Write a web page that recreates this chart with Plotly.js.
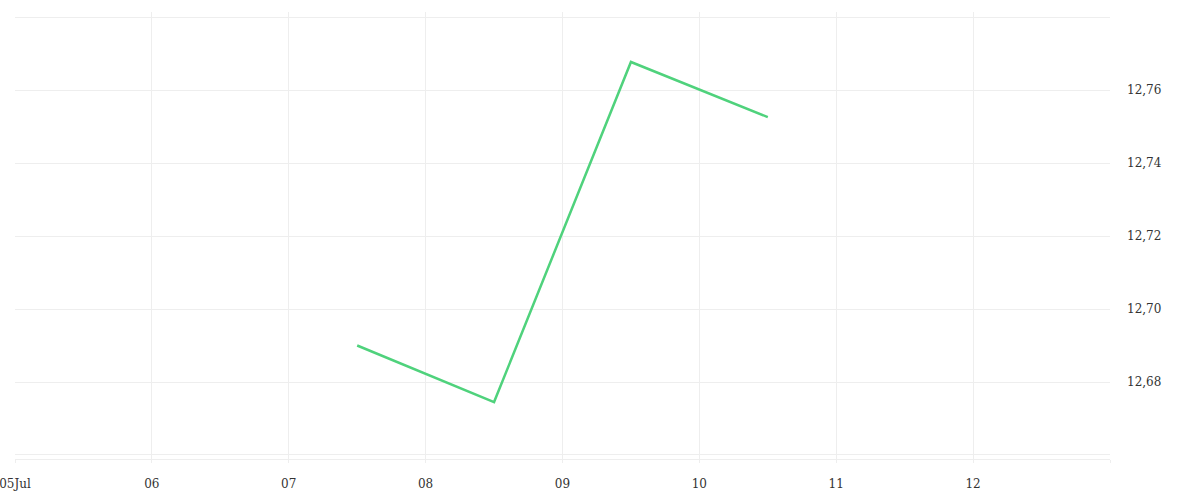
<!DOCTYPE html>
<html>
<head>
<meta charset="utf-8">
<script src="https://cdn.plot.ly/plotly-3.0.1.min.js"></script>
<style>html,body{margin:0;padding:0;background:#fff}#chart{width:1200px;height:500px}</style>
</head>
<body>
<div id="chart"></div>
<script>
const dates = ["2024-07-07 12:00", "2024-07-08 12:00", "2024-07-09 12:00", "2024-07-10 12:00"];
const values = [12.690, 12.6745, 12.7677, 12.7526];
const tickDates = ["2024-07-05", "2024-07-06", "2024-07-07", "2024-07-08", "2024-07-09", "2024-07-10", "2024-07-11", "2024-07-12", "2024-07-13"];
const tickLabels = ["05Jul", "06", "07", "08", "09", "10", "11", "12", ""];
const yTickVals = [12.66, 12.68, 12.70, 12.72, 12.74, 12.76, 12.78];
const yTickLabels = ["", "12,68", "12,70", "12,72", "12,74", "12,76", ""];

const trace = {
  x: dates, y: values, type: "scatter", mode: "lines",
  line: {color: "#4fd27c", width: 2.5},
  hoverinfo: "skip"
};
const font = {family: "DejaVu Serif, serif", size: 12, color: "#333"};
const layout = {
  width: 1200, height: 500,
  margin: {l: 15, r: 90, t: 12, b: 41},
  paper_bgcolor: "#fff", plot_bgcolor: "#fff",
  showlegend: false,
  font: font,
  xaxis: {
    type: "date",
    range: ["2024-07-05", "2024-07-13"],
    tickmode: "array", tickvals: tickDates, ticktext: tickLabels,
    showgrid: true, gridcolor: "#eeeeee", gridwidth: 1,
    ticks: "outside", ticklen: 3, tickcolor: "#eeeeee",
    showline: true, linecolor: "#eeeeee", linewidth: 1,
    zeroline: false, tickfont: font, ticklabelstandoff: 11,
    ticklabeloverflow: "allow"
  },
  yaxis: {
    side: "right",
    range: [12.6589, 12.7814],
    tickmode: "array", tickvals: yTickVals, ticktext: yTickLabels,
    showgrid: true, gridcolor: "#eeeeee", gridwidth: 1,
    ticks: "", zeroline: false, showline: false,
    tickfont: font, ticklabelstandoff: 16
  }
};
Plotly.newPlot("chart", [trace], layout, {displayModeBar: false, staticPlot: true});
</script>
</body>
</html>
